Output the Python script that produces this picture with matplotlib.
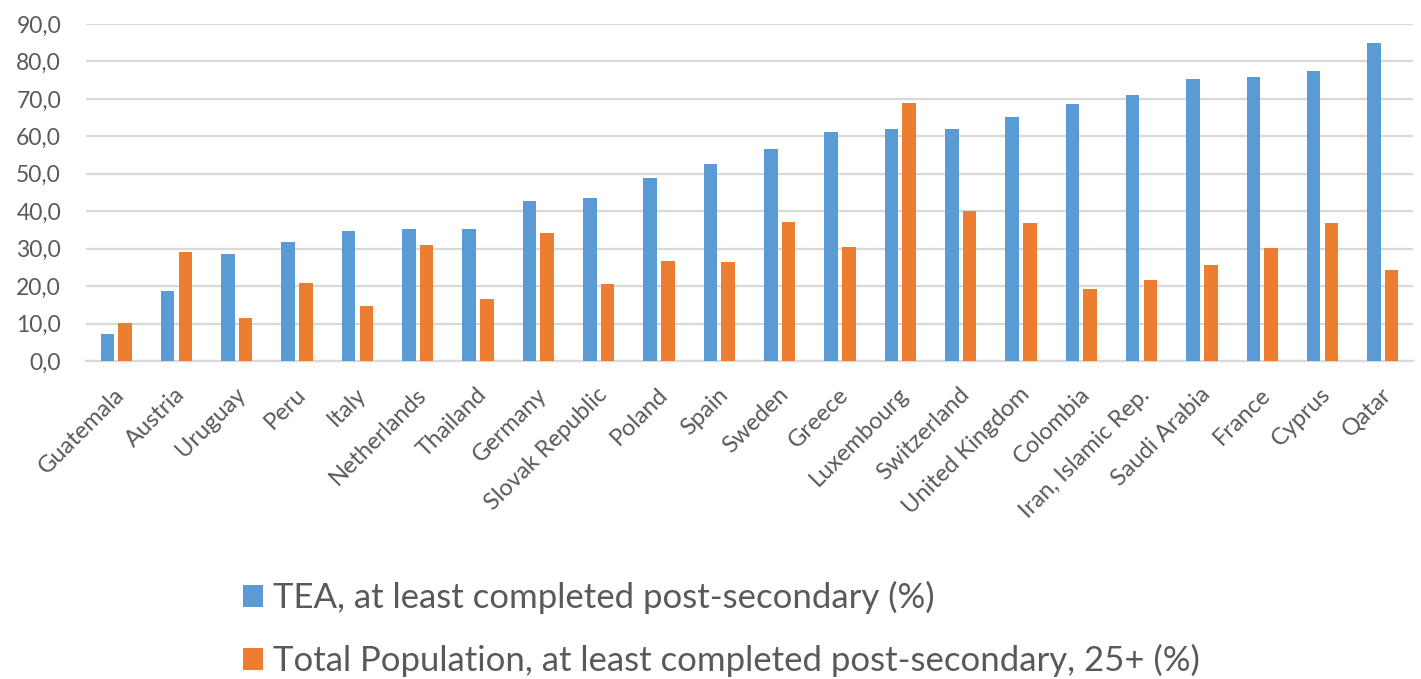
import matplotlib
matplotlib.use("Agg")
import matplotlib.pyplot as plt
import matplotlib.transforms as mtransforms
from matplotlib.patches import Patch
import numpy as np

countries = [
    "Guatemala", "Austria", "Uruguay", "Peru", "Italy", "Netherlands",
    "Thailand", "Germany", "Slovak Republic", "Poland", "Spain", "Sweden",
    "Greece", "Luxembourg", "Switzerland", "United Kingdom", "Colombia",
    "Iran, Islamic Rep.", "Saudi Arabia", "France", "Cyprus", "Qatar",
]
tea_post_secondary = [
    7.1, 18.7, 28.5, 31.7, 34.8, 35.3, 35.3, 42.7, 43.5, 48.9, 52.7,
    56.6, 61.2, 61.9, 61.9, 65.2, 68.6, 71.0, 75.2, 75.9, 77.5, 84.9,
]
population_post_secondary = [
    10.2, 29.1, 11.4, 20.8, 14.8, 30.9, 16.6, 34.3, 20.6, 26.8, 26.5,
    37.0, 30.4, 69.0, 40.0, 36.8, 19.3, 21.6, 25.6, 30.3, 36.8, 24.3,
]
series_labels = [
    "TEA, at least completed post-secondary (%)",
    "Total Population, at least completed post-secondary, 25+ (%)",
]
y_ticks = [0, 10, 20, 30, 40, 50, 60, 70, 80, 90]

BLUE = "#5B9BD5"
ORANGE = "#ED7D31"
TEXT = "#595959"
GRID = "#D9D9D9"

plt.rcParams["font.family"] = ["Lato", "DejaVu Sans"]

fig = plt.figure(figsize=(14.21, 6.79), dpi=100)
ax = fig.add_axes([86 / 1421, 1 - 361 / 679, (1413 - 86) / 1421, (361 - 24) / 679])

x = np.arange(len(countries))
bar_w = 0.224
offset = 0.147
ax.bar(x - offset, tea_post_secondary, width=bar_w, color=BLUE, zorder=3)
ax.bar(x + offset, population_post_secondary, width=bar_w, color=ORANGE, zorder=3)

ax.set_xlim(-0.5, len(countries) - 0.5)
ax.set_ylim(0, 90)
ax.set_yticks(y_ticks)
ax.set_yticklabels([f"{v:.1f}".replace(".", ",") for v in y_ticks])
ax.yaxis.grid(True, color=GRID, linewidth=1.6, zorder=0)
ax.set_axisbelow(True)
for side in ("top", "right", "left"):
    ax.spines[side].set_visible(False)
ax.spines["bottom"].set_color(GRID)
ax.spines["bottom"].set_linewidth(1.6)

ax.tick_params(axis="y", length=0, pad=18, labelsize=16.5, labelcolor=TEXT)
ax.tick_params(axis="x", length=0, pad=6)
ax.set_xticks(x)
ax.set_xticklabels(countries, rotation=45, ha="right", va="center",
                   rotation_mode="anchor", fontsize=17, color=TEXT)
shift = mtransforms.ScaledTranslation(5 / 100, -22 / 100, fig.dpi_scale_trans)
for lbl in ax.get_xticklabels():
    lbl.set_transform(lbl.get_transform() + shift)

handles = [Patch(facecolor=BLUE), Patch(facecolor=ORANGE)]
fig.legend(handles, series_labels, loc="upper left",
           bbox_to_anchor=(229 / 1421, 1 - 567 / 679), frameon=False,
           fontsize=25, labelcolor=TEXT, handlelength=0.58, handleheight=0.58,
           handletextpad=0.28, labelspacing=0.86, borderaxespad=0)

fig.savefig("out.png", dpi=100, facecolor="white")
